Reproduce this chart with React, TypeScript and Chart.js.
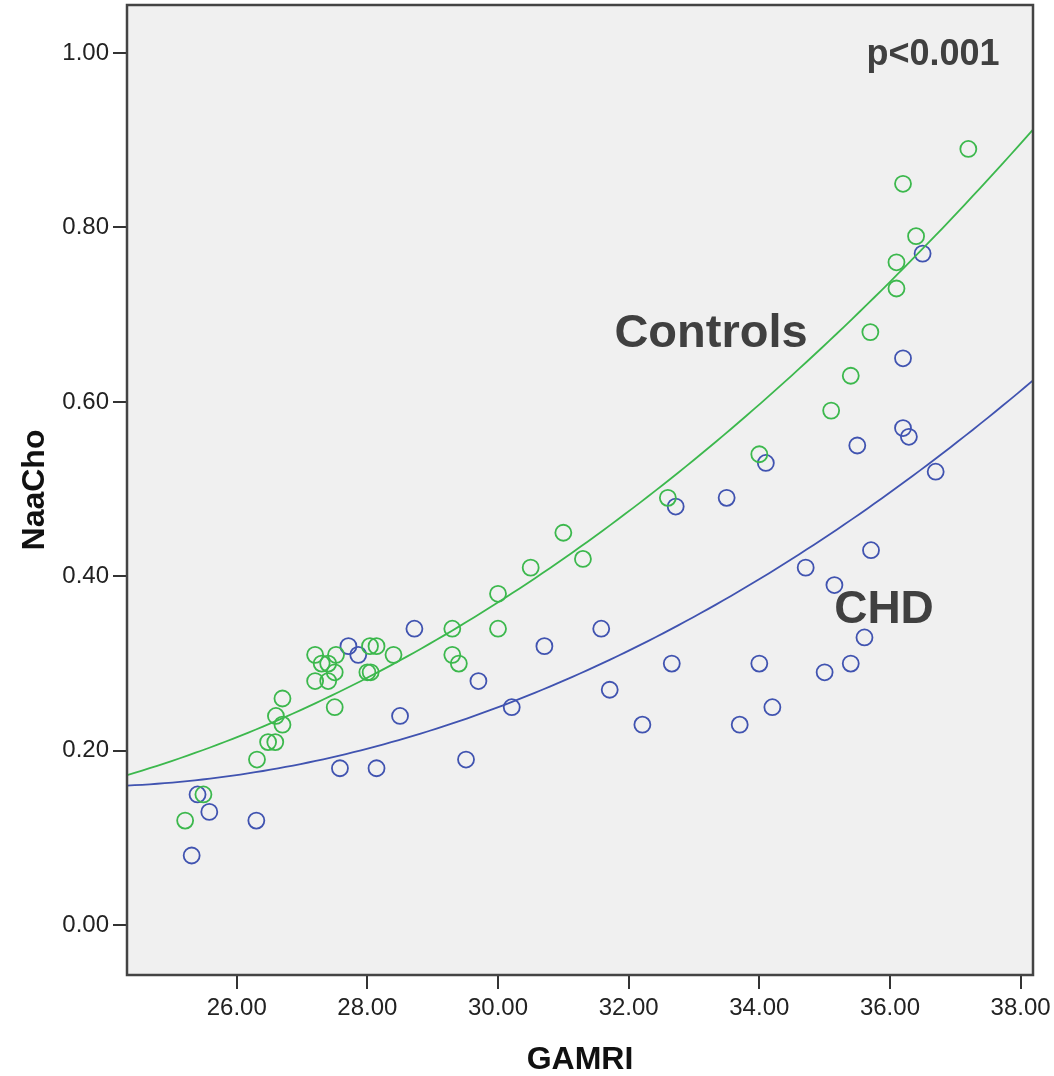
import React, { useEffect, useRef } from "react";
import { Chart, registerables } from "chart.js";

Chart.register(...registerables);

// Tick labels
const xTicks = [26, 28, 30, 32, 34, 36, 38];
const yTicks = [0, 0.2, 0.4, 0.6, 0.8, 1.0];

// Controls (green)
const controlsX = [
  25.21, 25.49, 26.31, 26.48, 26.59, 26.6, 26.7, 26.7, 27.2, 27.4, 27.2, 27.3, 27.4, 27.52,
  27.5, 27.5, 28.0, 28.05, 28.04, 28.14, 28.4, 29.3, 29.4, 29.3, 30.0, 30.0, 30.5, 31.0,
  31.3, 32.6, 34.0, 35.1, 35.4, 35.7, 36.1, 36.1, 36.2, 36.4, 37.2,
];
const controlsY = [
  0.12, 0.15, 0.19, 0.21, 0.21, 0.24, 0.23, 0.26, 0.28, 0.28, 0.31, 0.3, 0.3, 0.31,
  0.29, 0.25, 0.29, 0.29, 0.32, 0.32, 0.31, 0.31, 0.3, 0.34, 0.34, 0.38, 0.41, 0.45,
  0.42, 0.49, 0.54, 0.59, 0.63, 0.68, 0.73, 0.76, 0.85, 0.79, 0.89,
];

// CHD (blue)
const chdX = [
  25.31, 25.4, 25.58, 26.3, 27.58, 28.14, 27.71, 27.86, 28.72, 28.5, 29.7, 29.51, 30.21,
  30.71, 31.58, 31.71, 32.21, 32.66, 32.72, 33.5, 33.7, 34.0, 34.2, 34.1, 34.71, 35.71,
  35.15, 35.61, 35.4, 35.0, 35.5, 36.2, 36.29, 36.2, 36.5, 36.7,
];
const chdY = [
  0.08, 0.15, 0.13, 0.12, 0.18, 0.18, 0.32, 0.31, 0.34, 0.24, 0.28, 0.19, 0.25,
  0.32, 0.34, 0.27, 0.23, 0.3, 0.48, 0.49, 0.23, 0.3, 0.25, 0.53, 0.41, 0.43,
  0.39, 0.33, 0.3, 0.29, 0.55, 0.57, 0.56, 0.65, 0.77, 0.52,
];

const X_MIN = 24.32;
const X_MAX = 38.19;
const Y_MIN = -0.057;
const Y_MAX = 1.055;

const GREEN = "#3cb84d";
const BLUE = "#4053b0";
const TEXT_DARK = "#404040";
const FONT = "'Liberation Sans', Arial, Helvetica, sans-serif";

// Least-squares quadratic fit computed from the scatter values
function quadFit(xs: number[], ys: number[]) {
  const n = xs.length;
  const mx = xs.reduce((a, b) => a + b, 0) / n;
  const S = [0, 0, 0, 0, 0];
  const T = [0, 0, 0];
  for (let i = 0; i < n; i++) {
    const d = xs[i] - mx;
    let p = 1;
    for (let k = 0; k < 5; k++) {
      S[k] += p;
      if (k < 3) T[k] += p * ys[i];
      p *= d;
    }
  }
  const M = [
    [S[0], S[1], S[2], T[0]],
    [S[1], S[2], S[3], T[1]],
    [S[2], S[3], S[4], T[2]],
  ];
  for (let c = 0; c < 3; c++) {
    let piv = c;
    for (let r = c + 1; r < 3; r++) if (Math.abs(M[r][c]) > Math.abs(M[piv][c])) piv = r;
    [M[c], M[piv]] = [M[piv], M[c]];
    for (let r = 0; r < 3; r++) {
      if (r === c) continue;
      const f = M[r][c] / M[c][c];
      for (let k = c; k < 4; k++) M[r][k] -= f * M[c][k];
    }
  }
  const a = M[0][3] / M[0][0];
  const b = M[1][3] / M[1][1];
  const c2 = M[2][3] / M[2][2];
  return (x: number) => {
    const d = x - mx;
    return a + b * d + c2 * d * d;
  };
}

function fitCurve(xs: number[], ys: number[]) {
  const f = quadFit(xs, ys);
  const pts: { x: number; y: number }[] = [];
  const steps = 120;
  for (let i = 0; i <= steps; i++) {
    const x = X_MIN + ((X_MAX - X_MIN) * i) / steps;
    pts.push({ x, y: f(x) });
  }
  return pts;
}

const toPoints = (xs: number[], ys: number[]) => xs.map((x, i) => ({ x, y: ys[i] }));

const framePlugin = {
  id: "frame",
  beforeDraw(chart: any) {
    const { ctx, chartArea } = chart;
    ctx.save();
    ctx.fillStyle = "#f0f0f0";
    ctx.fillRect(chartArea.left, chartArea.top, chartArea.right - chartArea.left, chartArea.bottom - chartArea.top);
    ctx.restore();
  },
  afterDraw(chart: any) {
    const { ctx, chartArea } = chart;
    ctx.save();
    ctx.strokeStyle = "#444444";
    ctx.lineWidth = 2.5;
    ctx.strokeRect(chartArea.left, chartArea.top, chartArea.right - chartArea.left, chartArea.bottom - chartArea.top);
    ctx.fillStyle = TEXT_DARK;
    ctx.textAlign = "center";
    ctx.textBaseline = "alphabetic";
    ctx.font = `bold 47px ${FONT}`;
    ctx.fillText("Controls", 711, 347);
    ctx.font = `bold 46px ${FONT}`;
    ctx.fillText("CHD", 884, 623);
    ctx.font = `bold 36px ${FONT}`;
    ctx.fillText("p<0.001", 933, 65);
    ctx.restore();
  },
};

export default function App() {
  const ref = useRef<HTMLCanvasElement | null>(null);

  useEffect(() => {
    if (!ref.current) return;
    const chart = new Chart(ref.current, {
      type: "scatter",
      data: {
        datasets: [
          {
            type: "line",
            label: "Controls fit",
            data: fitCurve(controlsX, controlsY),
            borderColor: GREEN,
            borderWidth: 1.8,
            pointRadius: 0,
            fill: false,
            tension: 0,
          },
          {
            type: "line",
            label: "CHD fit",
            data: fitCurve(chdX, chdY),
            borderColor: BLUE,
            borderWidth: 1.8,
            pointRadius: 0,
            fill: false,
            tension: 0,
          },
          {
            label: "Controls",
            data: toPoints(controlsX, controlsY),
            borderColor: GREEN,
            backgroundColor: "rgba(0,0,0,0)",
            pointRadius: 8,
            pointBorderWidth: 1.8,
          },
          {
            label: "CHD",
            data: toPoints(chdX, chdY),
            borderColor: BLUE,
            backgroundColor: "rgba(0,0,0,0)",
            pointRadius: 8,
            pointBorderWidth: 1.8,
          },
        ],
      },
      options: {
        animation: false,
        responsive: false,
        maintainAspectRatio: false,
        layout: { autoPadding: false, padding: { left: 0, top: 5, right: 21, bottom: 0 } },
        plugins: {
          legend: { display: false },
          tooltip: { enabled: false },
        },
        scales: {
          x: {
            type: "linear",
            min: X_MIN,
            max: X_MAX,
            afterBuildTicks: (scale: any) => {
              scale.ticks = xTicks.map((v) => ({ value: v }));
            },
            afterFit: (scale: any) => {
              scale.height = 101;
              scale.paddingLeft = 0;
              scale.paddingRight = 0;
            },
            ticks: {
              color: "#222222",
              font: { family: FONT, size: 24 },
              padding: 5,
              maxRotation: 0,
              autoSkip: false,
              callback: (v: any) => Number(v).toFixed(2),
            },
            grid: {
              display: true,
              drawOnChartArea: false,
              drawTicks: true,
              tickLength: 14,
              color: "#333333",
              lineWidth: 2,
            },
            border: { display: false },
            title: {
              display: true,
              text: "GAMRI",
              color: "#111111",
              font: { family: FONT, size: 32, weight: "bold", lineHeight: 1 },
              padding: { top: 0, bottom: 0 },
            },
          },
          y: {
            type: "linear",
            min: Y_MIN,
            max: Y_MAX,
            afterBuildTicks: (scale: any) => {
              scale.ticks = yTicks.map((v) => ({ value: v }));
            },
            afterFit: (scale: any) => {
              scale.width = 127;
              scale.paddingTop = 0;
              scale.paddingBottom = 0;
            },
            ticks: {
              color: "#222222",
              font: { family: FONT, size: 24 },
              padding: 4,
              autoSkip: false,
              callback: (v: any) => Number(v).toFixed(2),
            },
            grid: {
              display: true,
              drawOnChartArea: false,
              drawTicks: true,
              tickLength: 14,
              color: "#333333",
              lineWidth: 2,
            },
            border: { display: false },
            title: {
              display: true,
              text: "NaaCho",
              color: "#111111",
              font: { family: FONT, size: 32, weight: "bold" },
              padding: { top: 16, bottom: 0 },
            },
          },
        },
      },
      plugins: [framePlugin],
    } as any);
    return () => chart.destroy();
  }, []);

  return (
    <div style={{ position: "absolute", left: 0, top: 0, width: 1054, height: 1076, background: "#ffffff" }}>
      <canvas ref={ref} width={1054} height={1076} style={{ display: "block", width: 1054, height: 1076 }} />
    </div>
  );
}
